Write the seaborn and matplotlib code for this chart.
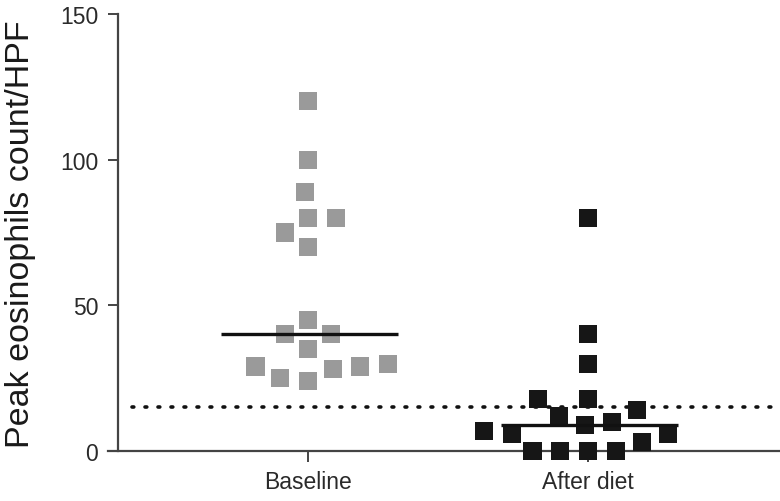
import numpy as np
import pandas as pd
import matplotlib
matplotlib.use("Agg")
import matplotlib.pyplot as plt
import seaborn as sns

# ---- data ----
groups = ["Baseline", "After diet"]
baseline = [120, 100, 89, 80, 80, 75, 70, 45, 40, 40, 35, 29, 28, 24, 25, 29, 30]
after_diet = [80, 40, 30, 18, 18, 14, 12, 10, 9, 6, 6, 7, 3, 0, 0, 0, 0]
threshold = 15
y_ticks = [0, 50, 100, 150]
y_label = "Peak eosinophils count/HPF"
colors = {"Baseline": "#9a9a9a", "After diet": "#161616"}

df = pd.DataFrame({
    "group": ["Baseline"] * len(baseline) + ["After diet"] * len(after_diet),
    "value": baseline + after_diet,
})

sns.set_style("ticks")
plt.rcParams["font.family"] = ["Liberation Sans", "DejaVu Sans"]

W, H = 780, 502
fig = plt.figure(figsize=(W / 100, H / 100), dpi=100)
ax = fig.add_axes([108 / W, 50 / H, 672 / W, 437 / H])

sns.swarmplot(data=df, x="group", y="value", hue="group", order=groups,
              palette=colors, marker="s", size=13, linewidth=6,
              legend=False, ax=ax, clip_on=False, zorder=3)
for coll in ax.collections:
    coll.set_edgecolor("none")

# medians
for i, g in enumerate(groups):
    med = np.median(df.loc[df.group == g, "value"])
    ax.hlines(med, i - 0.31, i + 0.32, color="#111111", lw=2.4, zorder=4)

# threshold dotted line
ax.hlines(threshold, -0.63, 1.69, color="#111111", lw=2.6,
          linestyles=(0, (0.5, 3.1)), capstyle="round", zorder=2)

ax.set_xlim(-0.714, 1.686)
ax.set_ylim(0, 150)
ax.set_yticks(y_ticks)
ax.set_xlabel("")
ax.set_ylabel("")

for s in ["top", "right"]:
    ax.spines[s].set_visible(False)
ax.spines["left"].set_position(("data", -0.679))
ax.spines["left"].set_bounds(0, 150)
for s in ["left", "bottom"]:
    ax.spines[s].set_color("#444444")
    ax.spines[s].set_linewidth(1.6)

ax.tick_params(axis="y", length=7, width=1.4, color="#444444", pad=7,
               labelsize=16.5, labelcolor="#2a2a2a")
ax.tick_params(axis="x", length=8, width=1.4, color="#444444", pad=6,
               labelsize=16.5, labelcolor="#2a2a2a")

fig.text(21 / W, (H - 234) / H, y_label, rotation=90, ha="center", va="center",
         fontsize=24.5, color="#1a1a1a")

fig.savefig("out.png", dpi=100)
